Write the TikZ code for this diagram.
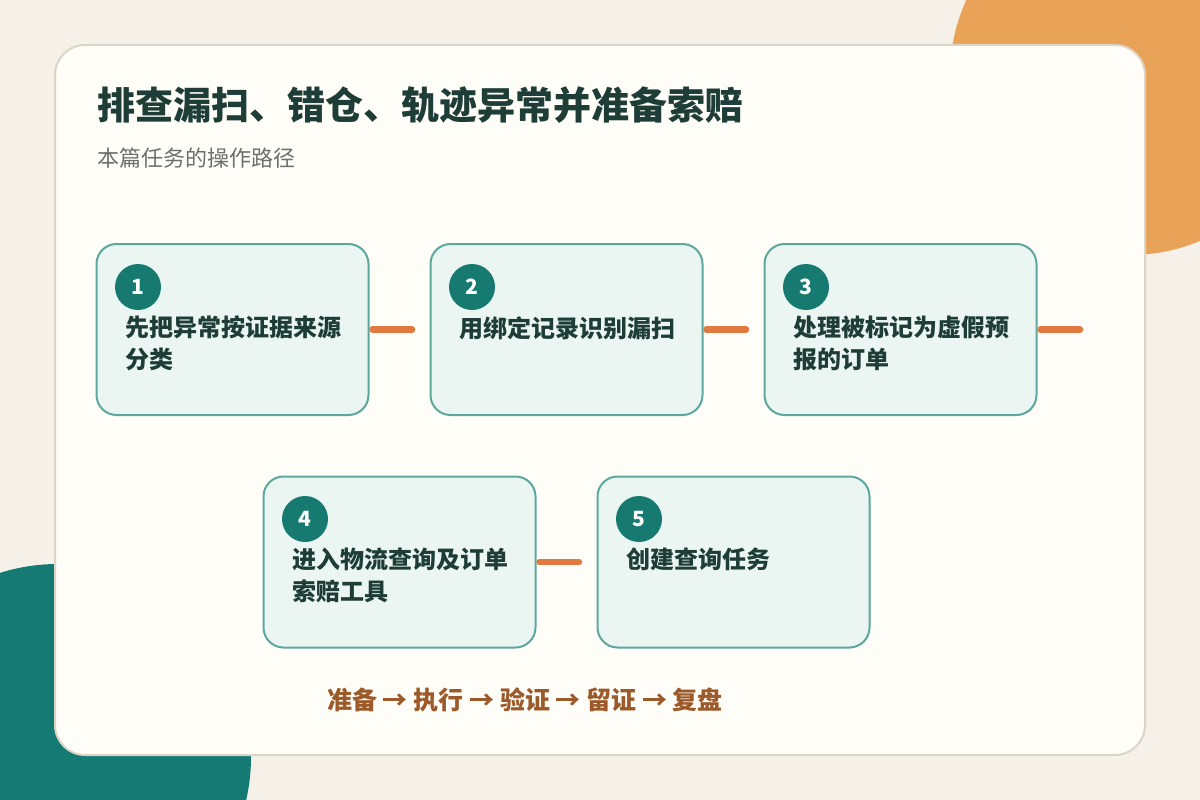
\documentclass[tikz,border=0pt]{standalone}
\usepackage{fontspec}
\setmainfont{Noto Sans CJK SC}
\usetikzlibrary{positioning}

\definecolor{paper}{HTML}{F5F1E8}
\definecolor{cardfill}{HTML}{FFFDF8}
\definecolor{cardline}{HTML}{DCD5C6}
\definecolor{blobteal}{HTML}{147A73}
\definecolor{bloborange}{HTML}{E8A358}
\definecolor{boxfill}{HTML}{EBF5F2}
\definecolor{boxline}{HTML}{5DA89C}
\definecolor{badge}{HTML}{177A71}
\definecolor{ink}{HTML}{1E3D36}
\definecolor{subink}{HTML}{6E6E6E}
\definecolor{linkcol}{HTML}{E07A40}
\definecolor{flowcol}{HTML}{9C5A2A}

\begin{document}
\begin{tikzpicture}[x=1pt,y=-1pt,
        stepbox/.style={draw=boxline,fill=boxfill,line width=2pt,rounded corners=20pt,
                        minimum width=272pt,minimum height=171pt,inner sep=0pt},
        numdot/.style={circle,fill=badge,text=white,inner sep=0pt,minimum size=46pt,
                       font=\fontsize{21}{25}\selectfont\bfseries},
        steptext/.style={anchor=north west,align=left,inner sep=0pt,text=ink,
                         font=\fontsize{24}{32}\selectfont\bfseries},
        link/.style={draw=linkcol,line width=6.5pt,line cap=round,shorten <=3pt}]
    % background and card
    \useasboundingbox (0,0) rectangle (1200,800);
    \fill[paper] (0,0) rectangle (1200,800);
    \fill[bloborange] (1130,75) circle (180);
    \fill[blobteal] (58,757) circle (193);
    \draw[cardline,fill=cardfill,line width=2pt,rounded corners=30pt] (55,45) rectangle (1145,755);

    \node (title) at (97,105) [anchor=west,text=ink,inner sep=0pt,
        font=\fontsize{38}{44}\selectfont\bfseries] {排查漏扫、错仓、轨迹异常并准备索赔};
    \node (sub) at (97,158) [anchor=west,text=subink,inner sep=0pt,
        font=\fontsize{22}{26}\selectfont] {本篇任务的操作路径};

    % step boxes
    \node (b1) at (232.5,329.5) [stepbox] {};
    \node (b2) at (566.5,329.5) [stepbox] {};
    \node (b3) at (900.5,329.5) [stepbox] {};
    \node (b4) at (399.5,562) [stepbox] {};
    \node (b5) at (733.5,562) [stepbox] {};

    \begin{scope}[every node/.style={numdot}]
        \node (n1) at (138,287) {1};
        \node (n2) at (472,287) {2};
        \node (n3) at (806,287) {3};
        \node (n4) at (305,519) {4};
        \node (n5) at (639,519) {5};
    \end{scope}

    \begin{scope}[every node/.style={steptext}]
        \node (t1) at (125,316) {先把异常按证据来源\\分类};
        \node (t2) at (459,316) {用绑定记录识别漏扫};
        \node (t3) at (793,316) {处理被标记为虚假预\\报的订单};
        \node (t4) at (292,548) {进入物流查询及订单\\索赔工具};
        \node (t5) at (626,548) {创建查询任务};
    \end{scope}

    % connectors
    \coordinate (c1) at (412,329.5);
    \coordinate (c2) at (746,329.5);
    \coordinate (c3) at (1080,329.5);
    \coordinate (c4) at (579,562);
    \path[link] (b1) edge (c1);
    \path[link] (b2) edge (c2);
    \path[link] (b3) edge (c3);
    \path[link] (b4) edge (c4);

    \node (flow) at (525,700) [text=flowcol,inner sep=0pt,
        font=\fontsize{25}{30}\selectfont\bfseries] {准备 → 执行 → 验证 → 留证 → 复盘};
\end{tikzpicture}
\end{document}
